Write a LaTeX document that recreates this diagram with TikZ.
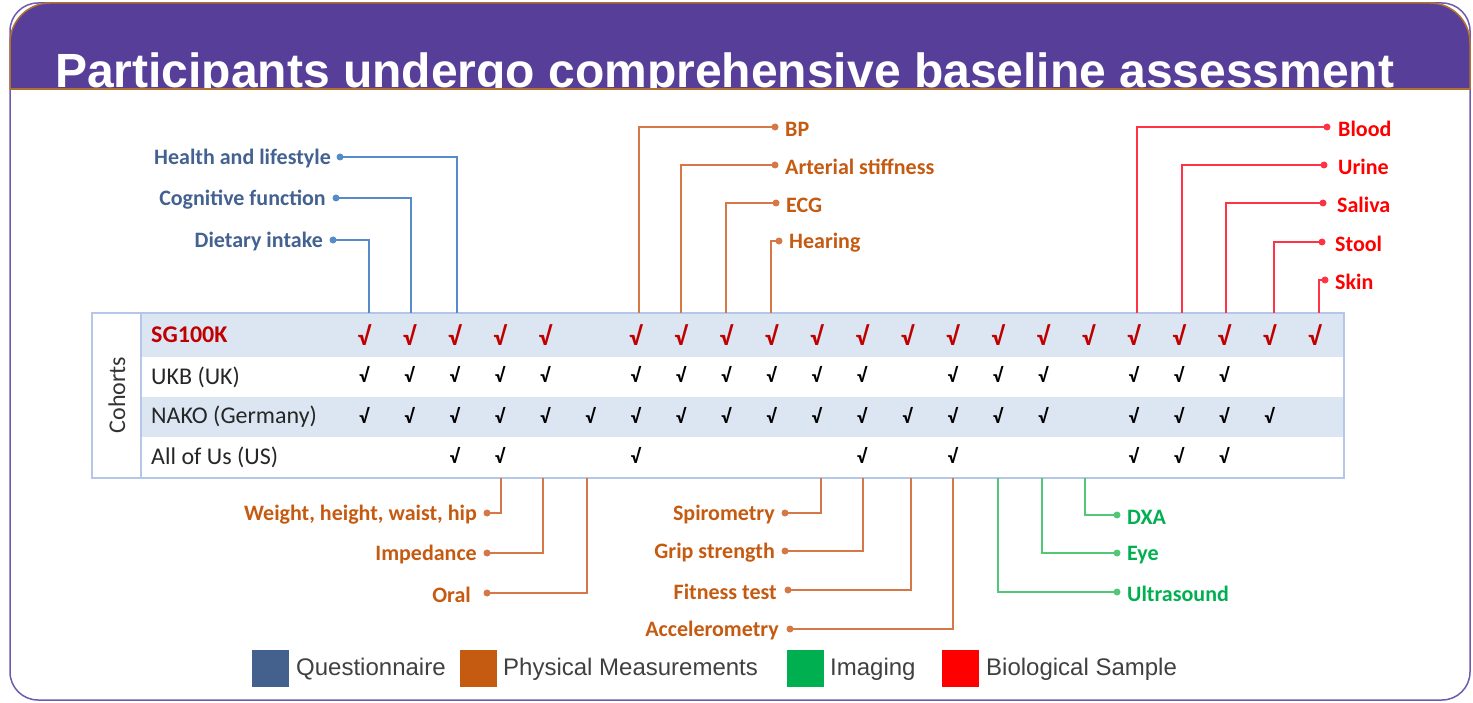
\documentclass[tikz,border=0pt]{standalone}
\usepackage{fontspec}
\setmainfont{Carlito}
\newfontfamily\arialf{Liberation Sans}
\definecolor{hdr}{RGB}{87,63,153}
\definecolor{hdrline}{RGB}{176,112,48}
\definecolor{framec}{RGB}{110,90,175}
\definecolor{rowblue}{RGB}{220,230,242}
\definecolor{tblline}{RGB}{180,199,231}
\definecolor{qtext}{RGB}{68,98,145}
\definecolor{qline}{RGB}{85,140,200}
\definecolor{ptext}{RGB}{197,90,17}
\definecolor{pline}{RGB}{214,120,70}
\definecolor{itext}{RGB}{0,176,80}
\definecolor{iline}{RGB}{80,200,120}
\definecolor{btext}{RGB}{255,0,0}
\definecolor{bline}{RGB}{255,50,70}
\definecolor{sgred}{RGB}{192,0,0}
\definecolor{qsq}{RGB}{68,96,140}
\definecolor{psq}{RGB}{197,90,17}
\definecolor{isq}{RGB}{0,176,80}
\definecolor{bsq}{RGB}{255,0,0}
\definecolor{legtext}{RGB}{64,64,64}
\begin{document}
\begin{tikzpicture}[x=1pt,y=-1pt,
  lbl/.style={font=\fontsize{22}{24}\selectfont\bfseries, inner sep=0pt, yshift=-2pt},
  dotn/.style={circle, fill, inner sep=0pt, minimum size=7pt},
  conn/.style={line width=2pt},
  rowlbl/.style={font=\fontsize{24}{26}\selectfont, anchor=west, inner sep=0pt, text=black!85},
  redchk/.style={font=\fontsize{26}{28}\selectfont\bfseries, text=sgred, inner sep=0pt},
  blkchk/.style={font=\fontsize{20}{22}\selectfont\bfseries, text=black, inner sep=0pt},
  legsq/.style={minimum size=37pt, inner sep=0pt},
  legtx/.style={font=\arialf\fontsize{24}{26}\selectfont, text=legtext, anchor=west, inner sep=0pt, yshift=-1.5pt}
]
\useasboundingbox (0,0) rectangle (1473,703);
% frame
\draw[framec, line width=1.5pt, rounded corners=28pt] (10,3) rectangle (1470,700);
\begin{scope}
  \clip (0,0) rectangle (1473,89);
  \filldraw[fill=hdr, draw=hdrline, line width=1.5pt, rounded corners=40pt] (10,3) rectangle (1470,250);
  \node[font=\arialf\fontsize{48}{50}\selectfont\bfseries, text=white, anchor=base west, inner sep=0pt] (title) at (55,88) {Participants undergo comprehensive baseline assessment};
\end{scope}
\draw[hdrline, line width=2pt] (10,89) -- (1470,89);
% table
\fill[rowblue] (141,313) rectangle (1344,357);
\fill[rowblue] (141,397) rectangle (1344,437);
\draw[tblline, line width=1.5pt] (92,313) rectangle (1344,478);
\draw[tblline, line width=1.5pt] (141,313) -- (141,478);
\node[font=\fontsize{24}{26}\selectfont, text=black!80, rotate=90, inner sep=0pt] (cohorts) at (117,395) {Cohorts};
\node[rowlbl, font=\fontsize{24}{26}\selectfont\bfseries, text=sgred] (sg) at (151,335) {SG100K};
\node[rowlbl] (ukb) at (151,377) {UKB (UK)};
\node[rowlbl] (nako) at (151,417) {NAKO (Germany)};
\node[rowlbl] (aou) at (151,457) {All of Us (US)};
% checks
\foreach \c in {1,2,3,4,5,7,8,9,10,11,12,13,14,15,16,17,18,19,20,21,22}
  \node[redchk] (s\c) at ({364+45.27*(\c-1)},335) {√};
\foreach \c in {1,2,3,4,5,7,8,9,10,11,12,14,15,16,18,19,20}
  \node[blkchk] (u\c) at ({364+45.27*(\c-1)},374) {√};
\foreach \c in {1,2,3,4,5,6,7,8,9,10,11,12,13,14,15,16,18,19,20,21}
  \node[blkchk] (n\c) at ({364+45.27*(\c-1)},415) {√};
\foreach \c in {3,4,7,12,14,18,19,20}
  \node[blkchk] (a\c) at ({364+45.27*(\c-1)},455) {√};
% connector end points on the table
\foreach \n/\x in {t1/369,t2/411,t3/457,t7/639,t8/681,t9/726,t10/771,t18/1137,t19/1182,t20/1226,t21/1274,t22/1319}
  \coordinate (\n) at (\x,313);
\foreach \n/\x in {b4/501,b5/543,b6/587,b11/821,b12/863,b13/911,b14/953,b15/998,b16/1042,b17/1085}
  \coordinate (\n) at (\x,478);
% Questionnaire (top left)
\foreach \k/\dx/\tx/\y/\t/\tgt in {hl/340/331/157/Health and lifestyle/t3, cf/336/326/198/Cognitive function/t2, di/333/323/240/Dietary intake/t1}{
  \node[lbl, text=qtext, anchor=east] (\k) at (\tx,\y) {\t};
  \node[dotn, qline] (\k d) at (\dx,\y) {};
  \draw[conn, qline] (\k d.center) -| (\tgt);
}
% Physical (top)
\foreach \k/\dx/\tx/\y/\t/\tgt in {bp/775/785/127/BP/t7, as/775/785/165/Arterial stiffness/t8, ecg/776/786/203/ECG/t9, he/779/789/241/Hearing/t10}{
  \node[lbl, text=ptext, anchor=west] (\k) at (\tx,\y) {\t};
  \node[dotn, pline] (\k d) at (\dx,\y) {};
  \draw[conn, pline] (\k d.center) -| (\tgt);
}
% Biological (top right)
\foreach \k/\dx/\tx/\y/\t/\tgt in {bl/1327/1338/127/Blood/t18, ur/1324/1338/165/Urine/t19, sa/1323/1337/203/Saliva/t20, st/1322/1335/242/Stool/t21, sk/1325/1335/280/Skin/t22}{
  \node[lbl, text=btext, anchor=west] (\k) at (\tx,\y) {\t};
  \node[dotn, bline] (\k d) at (\dx,\y) {};
  \draw[conn, bline] (\k d.center) -| (\tgt);
}
% Physical (bottom)
\foreach \k/\dx/\tx/\y/\t/\tgt in {wh/487/477/513/{Weight, height, waist, hip}/b4, im/487/477/553/Impedance/b5, or/487/471/593/Oral/b6, sp/785/775/513/Spirometry/b11, gs/785/775/551/Grip strength/b12, ft/788/777/590/Fitness test/b13, ac/790/779/629/Accelerometry/b14}{
  \node[lbl, text=ptext, anchor=east] (\k) at (\tx,\y) {\t};
  \node[dotn, pline] (\k d) at (\dx,\y) {};
  \draw[conn, pline] (\k d.center) -| (\tgt);
}
% Imaging (bottom)
\foreach \k/\y/\t/\tgt in {dxa/515/DXA/b17, eye/553/Eye/b16, us/592/Ultrasound/b15}{
  \node[lbl, text=itext, anchor=west] (\k) at (1127,\y) {\t};
  \node[dotn, iline] (\k d) at (1117,\y) {};
  \draw[conn, iline] (\k d.center) -| (\tgt);
}
% legend
\node[legsq, fill=qsq] (lq) at (270.5,668.5) {};
\node[legtx] (lqt) at (296,668) {Questionnaire};
\node[legsq, fill=psq] (lp) at (478.5,668.5) {};
\node[legtx] (lpt) at (503,668) {Physical Measurements};
\node[legsq, fill=isq] (li) at (805.5,668.5) {};
\node[legtx] (lit) at (830,668) {Imaging};
\node[legsq, fill=bsq] (lb) at (960.5,668.5) {};
\node[legtx] (lbt) at (986,668) {Biological Sample};
\end{tikzpicture}
\end{document}
